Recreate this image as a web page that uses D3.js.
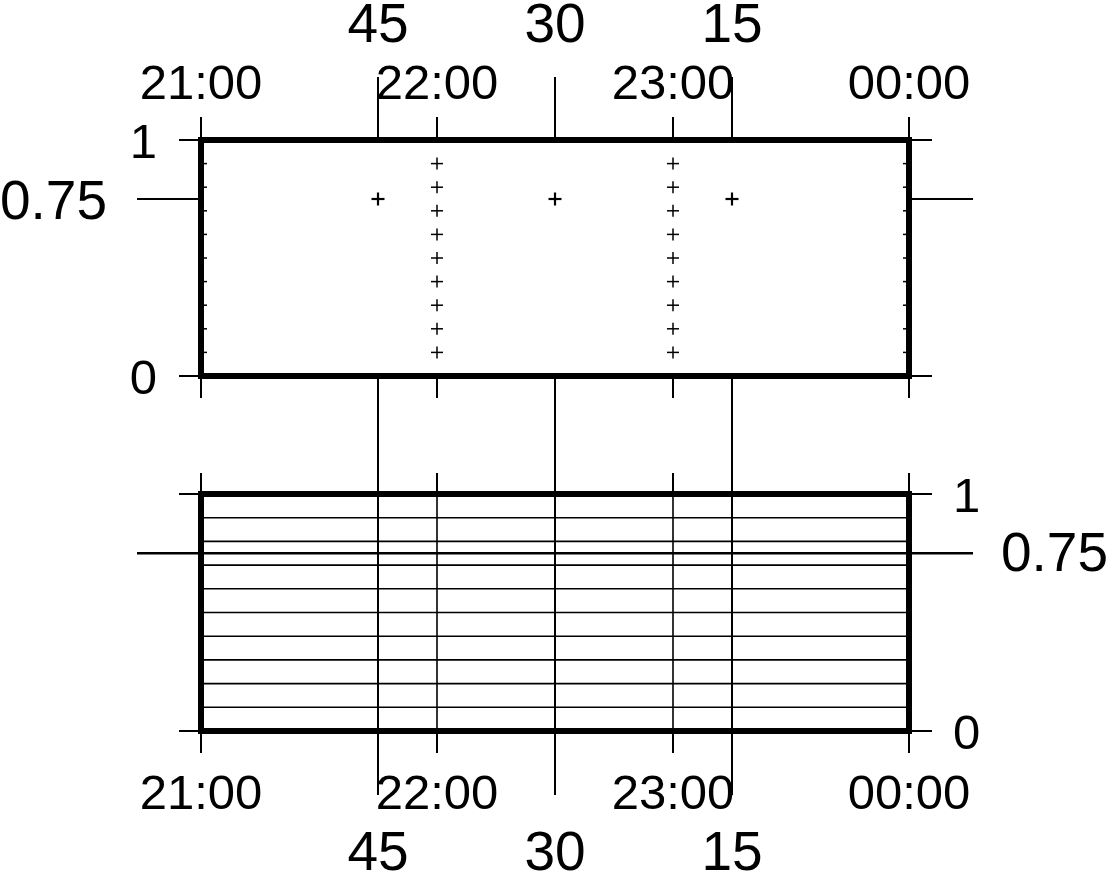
<!DOCTYPE html>
<html><head><meta charset="utf-8">
<script src="https://cdn.jsdelivr.net/npm/d3@7"></script>
<style>body{margin:0;background:#fff}svg{display:block}text{font-family:"Liberation Sans",Arial,sans-serif;fill:#000}</style>
</head><body>
<script>
// ---- data ----
const timeDomain = ["2000-01-01T21:00:00Z", "2000-01-02T00:00:00Z"];
const hourTicks = ["2000-01-01T21:00:00Z","2000-01-01T22:00:00Z","2000-01-01T23:00:00Z","2000-01-02T00:00:00Z"];
const hourLabels = ["21:00","22:00","23:00","00:00"];
const customXTicks = ["2000-01-01T21:45:00Z","2000-01-01T22:30:00Z","2000-01-01T23:15:00Z"];
const customXLabels = ["45","30","15"];
const yMajorTicks = [0, 1];
const yMajorLabels = ["0", "1"];
const yCustomTicks = [0.75];
const yCustomLabels = ["0.75"];
const yGridValues = [0.1,0.2,0.3,0.4,0.5,0.6,0.7,0.8,0.9];

const W = 1111, H = 873;
const svg = d3.select("body").append("svg").attr("width", W).attr("height", H);

const x = d3.scaleUtc().domain(timeDomain.map(d => new Date(d))).range([201, 909]);
const yTop = d3.scaleLinear().domain([0, 1]).range([376, 140]);
const yBot = d3.scaleLinear().domain([0, 1]).range([731, 494]);
const hT = hourTicks.map(d => new Date(d));
const cT = customXTicks.map(d => new Date(d));
const [x0, x1] = x.range();

svg.append("defs").append("clipPath").attr("id", "clipTop")
  .append("rect").attr("x", x0).attr("y", yTop(1)).attr("width", x1 - x0).attr("height", yTop(0) - yTop(1));

function line(g, xa, ya, xb, yb, w) {
  g.append("line").attr("x1", xa).attr("y1", ya).attr("x2", xb).attr("y2", yb)
    .attr("stroke", "#000").attr("stroke-width", w);
}
function text(g, s, tx, ty, size, anchor) {
  g.append("text").attr("x", tx).attr("y", ty).attr("font-size", size)
    .attr("text-anchor", anchor).text(s);
}
function cross(g, cx, cy, r, w) {
  line(g, cx - r, cy, cx + r, cy, w);
  line(g, cx, cy - r, cx, cy + r, w);
}

// ===== Top panel =====
const gt = svg.append("g");
{
  const y = yTop, yb = y(0), yt = y(1);
  const gc = gt.append("g").attr("clip-path", "url(#clipTop)");
  hT.forEach(t => yGridValues.forEach(v => cross(gc, x(t), y(v), 6, 1.5)));
  cT.forEach(t => yCustomTicks.forEach(v => cross(gc, x(t), y(v), 6.5, 2.2)));
  hT.forEach(t => { line(gt, x(t), yt - 23, x(t), yt, 2); line(gt, x(t), yb, x(t), yb + 22, 2); });
  cT.forEach(t => { line(gt, x(t), yt - 63, x(t), yt, 2); line(gt, x(t), yb, x(t), yb + 63, 2); });
  yMajorTicks.forEach(v => { line(gt, x0 - 22, y(v), x0, y(v), 2); line(gt, x1, y(v), x1 + 23, y(v), 2); });
  yCustomTicks.forEach(v => { line(gt, x0 - 64, y(v), x0, y(v), 2); line(gt, x1, y(v), x1 + 64, y(v), 2); });
  gt.append("rect").attr("x", x0).attr("y", yt).attr("width", x1 - x0).attr("height", yb - yt)
    .attr("fill", "none").attr("stroke", "#000").attr("stroke-width", 6);
  hT.forEach((t, i) => text(gt, hourLabels[i], x(t), 99, 49, "middle"));
  cT.forEach((t, i) => text(gt, customXLabels[i], x(t), 42, 55, "middle"));
  yMajorTicks.forEach((v, i) => text(gt, yMajorLabels[i], 157, y(v) + 17.5, 49, "end"));
  yCustomTicks.forEach((v, i) => text(gt, yCustomLabels[i], 107, y(v) + 20, 55, "end"));
}

// ===== Bottom panel =====
const gb = svg.append("g");
{
  const y = yBot, yb = y(0), yt = y(1);
  yGridValues.forEach(v => line(gb, x0, y(v), x1, y(v), 1.6));
  hT.forEach(t => {
    line(gb, x(t), yt, x(t), yb, 1.6);
    line(gb, x(t), yt - 21, x(t), yt, 2);
    line(gb, x(t), yb, x(t), yb + 22, 2);
  });
  cT.forEach(t => line(gb, x(t), yt - 63, x(t), yb + 64, 2));
  yMajorTicks.forEach(v => { line(gb, x0 - 22, y(v), x0, y(v), 2); line(gb, x1, y(v), x1 + 23, y(v), 2); });
  yCustomTicks.forEach(v => line(gb, x0 - 64, y(v), x1 + 64, y(v), 2.6));
  gb.append("rect").attr("x", x0).attr("y", yt).attr("width", x1 - x0).attr("height", yb - yt)
    .attr("fill", "none").attr("stroke", "#000").attr("stroke-width", 6);
  hT.forEach((t, i) => text(gb, hourLabels[i], x(t), 809, 49, "middle"));
  cT.forEach((t, i) => text(gb, customXLabels[i], x(t), 870, 55, "middle"));
  yMajorTicks.forEach((v, i) => text(gb, yMajorLabels[i], 953, y(v) + 17.5, 49, "start"));
  yCustomTicks.forEach((v, i) => text(gb, yCustomLabels[i], 1001, y(v) + 18, 55, "start"));
}
</script>
</body></html>
